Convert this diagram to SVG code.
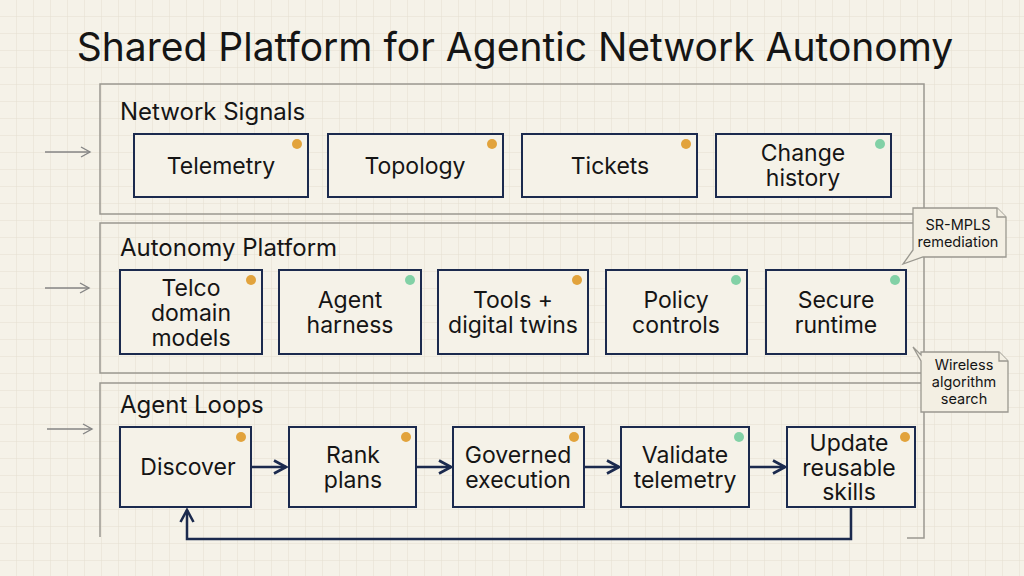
<svg xmlns="http://www.w3.org/2000/svg" width="1024" height="576" viewBox="0 0 1024 576">
<defs>
<pattern id="grid" width="17" height="17" patternUnits="userSpaceOnUse">
<path d="M17 0V17M0 17H17" fill="none" stroke="#e4dfd0" stroke-width="1"/>
</pattern>
<marker id="ah" viewBox="0 0 16 16" refX="14" refY="8" markerWidth="16" markerHeight="16" markerUnits="userSpaceOnUse" orient="auto">
<path d="M2 1.5L14 8L2 14.5" fill="none" stroke="#1b2a4e" stroke-width="2.6"/>
</marker>
<marker id="ahg" viewBox="0 0 12 12" refX="10" refY="6" markerWidth="12" markerHeight="12" markerUnits="userSpaceOnUse" orient="auto">
<path d="M1 1L10 6L1 11" fill="none" stroke="#858585" stroke-width="1.4"/>
</marker>
</defs>
<style>
text{font-family:Inter,"Noto Sans",sans-serif;fill:#151515}
.title{font-size:39px}
.plabel{font-size:24px}
.node{font-size:23px;text-anchor:middle}
.nbox{fill:#f5f2e8;stroke:#1b2a4e;stroke-width:2}
.panel{fill:none;stroke:#9a9890;stroke-width:1.5}
.conn{fill:none;stroke:#1b2a4e;stroke-width:2.5}
.side{fill:none;stroke:#858585;stroke-width:1.4}
.dot-o{fill:#e2a33c}
.dot-g{fill:#82d1a6}
.call{fill:#f3efe3;stroke:#9a9890;stroke-width:1.3}
.ctext{font-size:14.5px;text-anchor:middle}
</style>
<rect width="1024" height="576" fill="#f5f2e8"/>
<rect width="1024" height="576" fill="url(#grid)"/>

<text class="title" x="515" y="61" text-anchor="middle">Shared Platform for Agentic Network Autonomy</text>

<g id="panels">
<rect class="panel" x="100" y="84" width="824" height="130"/>
<rect class="panel" x="100" y="223" width="824" height="150"/>
<path class="panel" d="M100 537V383H924V538H907"/>
<text class="plabel" x="120" y="120">Network Signals</text>
<text class="plabel" x="120" y="256">Autonomy Platform</text>
<text class="plabel" x="120" y="413">Agent Loops</text>
</g>

<g id="side-arrows">
<path class="side" d="M45 152H90" marker-end="url(#ahg)"/>
<path class="side" d="M45 288H89" marker-end="url(#ahg)"/>
<path class="side" d="M47 429H92" marker-end="url(#ahg)"/>
</g>

<g id="n-telemetry"><rect class="nbox" x="134" y="134" width="174" height="63"/><circle class="dot-o" cx="297" cy="144" r="5"/><text class="node" x="221" y="174">Telemetry</text></g>
<g id="n-topology"><rect class="nbox" x="328" y="134" width="175" height="63"/><circle class="dot-o" cx="492" cy="144" r="5"/><text class="node" x="415" y="174">Topology</text></g>
<g id="n-tickets"><rect class="nbox" x="522" y="134" width="175" height="63"/><circle class="dot-o" cx="686" cy="144" r="5"/><text class="node" x="610" y="174">Tickets</text></g>
<g id="n-change"><rect class="nbox" x="716" y="134" width="175" height="63"/><circle class="dot-g" cx="880" cy="144" r="5"/><text class="node" x="803" y="161">Change</text><text class="node" x="803" y="186">history</text></g>

<g id="n-telco"><rect class="nbox" x="120" y="270" width="142" height="84"/><circle class="dot-o" cx="251" cy="280" r="5"/><text class="node" x="191" y="296">Telco</text><text class="node" x="191" y="321">domain</text><text class="node" x="191" y="346">models</text></g>
<g id="n-harness"><rect class="nbox" x="279" y="270" width="142" height="84"/><circle class="dot-g" cx="410" cy="280" r="5"/><text class="node" x="350" y="308">Agent</text><text class="node" x="350" y="333">harness</text></g>
<g id="n-tools"><rect class="nbox" x="438" y="270" width="150" height="84"/><circle class="dot-o" cx="577" cy="280" r="5"/><text class="node" x="513" y="308">Tools +</text><text class="node" x="513" y="333">digital twins</text></g>
<g id="n-policy"><rect class="nbox" x="606" y="270" width="141" height="84"/><circle class="dot-g" cx="736" cy="280" r="5"/><text class="node" x="676" y="308">Policy</text><text class="node" x="676" y="333">controls</text></g>
<g id="n-secure"><rect class="nbox" x="766" y="270" width="140" height="84"/><circle class="dot-g" cx="895" cy="280" r="5"/><text class="node" x="836" y="308">Secure</text><text class="node" x="836" y="333">runtime</text></g>

<g id="connectors">
<path class="conn" d="M251 467H286" marker-end="url(#ah)"/>
<path class="conn" d="M416 467H451" marker-end="url(#ah)"/>
<path class="conn" d="M584 467H619" marker-end="url(#ah)"/>
<path class="conn" d="M749 467H785" marker-end="url(#ah)"/>
<path class="conn" d="M851 507V539H187V510" marker-end="url(#ah)"/>
</g>

<g id="n-discover"><rect class="nbox" x="120" y="427" width="131" height="80"/><circle class="dot-o" cx="241" cy="437" r="5"/><text class="node" x="188" y="475">Discover</text></g>
<g id="n-rank"><rect class="nbox" x="289" y="427" width="127" height="80"/><circle class="dot-o" cx="406" cy="437" r="5"/><text class="node" x="353" y="463">Rank</text><text class="node" x="353" y="488">plans</text></g>
<g id="n-governed"><rect class="nbox" x="453" y="427" width="131" height="80"/><circle class="dot-o" cx="574" cy="437" r="5"/><text class="node" x="518" y="463">Governed</text><text class="node" x="518" y="488">execution</text></g>
<g id="n-validate"><rect class="nbox" x="621" y="427" width="128" height="80"/><circle class="dot-g" cx="739" cy="437" r="5"/><text class="node" x="685" y="463">Validate</text><text class="node" x="685" y="488">telemetry</text></g>
<g id="n-update"><rect class="nbox" x="787" y="427" width="128" height="80"/><circle class="dot-o" cx="905" cy="437" r="5"/><text class="node" x="849" y="451">Update</text><text class="node" x="849" y="476">reusable</text><text class="node" x="849" y="500">skills</text></g>

<g id="callout-srmpls">
<path class="call" d="M913 208H997L1006 217V257H923L903 264L913 250Z"/>
<path class="call" d="M997 208V217H1006"/>
<text class="ctext" x="958" y="230">SR-MPLS</text>
<text class="ctext" x="958" y="247">remediation</text>
</g>
<g id="callout-wireless">
<path class="call" d="M913 347L921 355V352H999L1008 361V412H921V361Z"/>
<path class="call" d="M999 352V361H1008"/>
<text class="ctext" x="964" y="370">Wireless</text>
<text class="ctext" x="964" y="387">algorithm</text>
<text class="ctext" x="964" y="404">search</text>
</g>
</svg>
